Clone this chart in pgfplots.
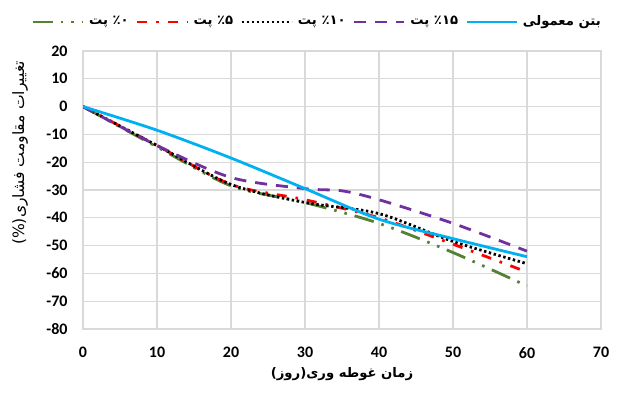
\documentclass[border=0pt]{standalone}
\usepackage{fontspec}
\usepackage{pgfplots}
\pgfplotsset{compat=1.18}
\setmainfont{Carlito}
\newfontfamily\fa[Script=Arabic]{DejaVu Sans}
\TeXXeTstate=1

\definecolor{cblue}{RGB}{0,176,240}
\definecolor{cpurple}{RGB}{112,48,160}
\definecolor{cred}{RGB}{255,0,0}
\definecolor{cgreen}{RGB}{84,130,53}
\definecolor{cgrid}{RGB}{217,217,217}
\definecolor{czero}{RGB}{190,190,190}

\begin{document}
\begin{tikzpicture}
\begin{axis}[
  scale only axis, width=259pt, height=139pt,
  xmin=0, xmax=70, ymin=-80, ymax=20,
  xtick={0,10,...,70}, ytick={-80,-70,...,20},
  grid=major, major grid style={cgrid, line width=0.6pt},
  axis line style={cgrid, line width=0.6pt},
  tick style={draw=none},
  /pgf/number format/assume math mode=true,
  ticklabel style={font=\fontsize{8}{9}\selectfont\bfseries, inner sep=0pt},
  yticklabel style={anchor=east, xshift=-7.5pt},
  xticklabel style={anchor=north, yshift=-9pt},
  extra y ticks={0}, extra y tick labels={},
  extra y tick style={grid style={czero, line width=0.6pt}},
  xlabel={{\fa\bfseries (روز)\beginR زمان غوطه وری\endR}},
  xlabel style={at={(axis description cs:0.5,-0.1619)}, anchor=center, font=\fontsize{6.6}{8}\selectfont},
  ylabel={{\fa (\%)\beginR تغییرات مقاومت فشاری\endR}},
  ylabel style={at={(axis description cs:-0.1216,0.633)}, anchor=center, font=\fontsize{7.8}{9}\selectfont},
  legend columns=5,
  legend style={draw=none, fill=none, at={(axis description cs:1.014,1.104)}, anchor=east,
    font=\fontsize{6.6}{8}\selectfont, nodes={inner sep=0.5pt},
    /tikz/every odd column/.append style={column sep=2pt},
    /tikz/every even column/.append style={column sep=3pt}},
  legend image code/.code={\draw[#1] (0pt,0pt) -- (25pt,0pt);},
  every axis plot/.append style={line width=1.4pt, line cap=butt},
]
% 0% PET
\addplot[cgreen, smooth, dash pattern=on 10pt off 4pt on 1.3pt off 4pt on 1.3pt off 4pt]
  coordinates {(0,0) (10,-14.5) (20,-28.5) (30,-34.5) (40,-42) (50,-52.5) (60,-64.5)};
\addlegendentry{\fa\bfseries\beginR ٪۰ پت\endR}
% 5% PET
\addplot[cred, smooth, dash pattern=on 5pt off 4.5pt on 1.3pt off 4.5pt]
  coordinates {(0,0) (10,-14) (20,-28) (30,-33.5) (40,-40) (50,-49.5) (60,-59.5)};
\addlegendentry{\fa\bfseries\beginR ٪۵ پت\endR}
% 10% PET
\addplot[black, smooth, dash pattern=on 1.2pt off 1.3pt]
  coordinates {(0,0) (10,-14) (20,-28) (30,-34.5) (40,-38.5) (50,-48.5) (60,-56.5)};
\addlegendentry{\fa\bfseries\beginR ٪۱۰ پت\endR}
% 15% PET
\addplot[cpurple, smooth, dash pattern=on 6pt off 4.5pt]
  coordinates {(0,0) (10,-14) (20,-25.5) (30,-29.5) (35,-30.3) (40,-33.5) (50,-42) (60,-52)};
\addlegendentry{\fa\bfseries\beginR ٪۱۵ پت\endR}
% plain concrete
\addplot[cblue, smooth]
  coordinates {(0,0) (10,-8.5) (20,-18.5) (30,-29.5) (40,-40.5) (50,-47.5) (60,-54)};
\addlegendentry{\fa\bfseries\beginR بتن معمولی\endR}
\end{axis}
\pgfresetboundingbox
\path[use as bounding box] (-41.5pt,-31.5pt) rectangle (268.5pt,164.5pt);
\end{tikzpicture}
\end{document}
